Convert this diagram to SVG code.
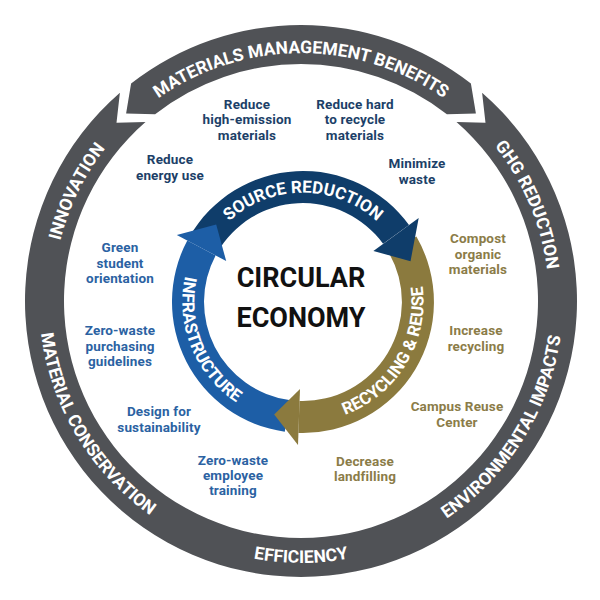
<svg xmlns="http://www.w3.org/2000/svg" width="600" height="600" viewBox="0 0 600 600">
<style>
  .ring{fill:#505256}
  .arc{font-family:"Roboto","Liberation Sans",sans-serif;font-weight:700;fill:#ffffff;text-anchor:middle}
  .outer{font-size:17.5px}
  .inner{font-size:17px}
  .lbl{font-family:"Roboto","Liberation Sans",sans-serif;font-weight:700;font-size:13.5px;letter-spacing:0.15px;text-anchor:middle}
  .nv{fill:#1c3f68}
  .bl{fill:#2b62a2}
  .gd{fill:#8b7c48}
  .center{font-family:"Roboto","Liberation Sans",sans-serif;font-weight:700;font-size:27px;fill:#111111;text-anchor:middle}
</style>
<defs>
  <path id="pTop" d="M56.8,257.9 A248,248 0 0 1 545.2,257.9"/>
  <path id="pGhg" d="M245.2,59.4 A248,248 0 0 1 436.1,509"/>
  <path id="pInn" d="M155.2,501.6 A248,248 0 0 1 369.4,62.6"/>
  <path id="pEff" d="M43,346.5 A262,262 0 0 0 559,346.5"/>
  <path id="pEnv" d="M202.9,543.9 A262,262 0 0 0 476.3,106.3"/>
  <path id="pMat" d="M129.1,103.3 A262,262 0 0 0 394.9,545.6"/>
  <path id="pSrc" d="M195.2,283 A109.5,109.5 0 0 1 410.8,283"/>
  <path id="pRec" d="M259.8,414.5 A120.5,120.5 0 0 0 382.1,211.1"/>
  <path id="pInf" d="M239.1,199.8 A120.5,120.5 0 0 0 328.1,419.9"/>
</defs>
<rect x="0" y="0" width="600" height="600" fill="#ffffff"/>

<g id="benefits-top">
  <path class="ring" d="M131.1,83.5 A276,276 0 0 1 470.9,83.5 L475.9,113.4 L446.9,114.2 A237,237 0 0 0 155.1,114.2 L126.1,113.4 Z"/>
  <text class="arc outer"><textPath href="#pTop" startOffset="50%">MATERIALS MANAGEMENT BENEFITS</textPath></text>
</g>

<g id="benefits-ring">
  <path class="ring" d="M482.1,92.7 A276,276 0 1 1 119.9,92.7 L116.5,122.8 L145.5,122.1 A237,237 0 1 0 456.5,122.1 L485.5,122.8 Z"/>
  <text class="arc outer"><textPath href="#pGhg" startOffset="50%">GHG REDUCTION</textPath></text>
  <text class="arc outer"><textPath href="#pEnv" startOffset="50%">ENVIRONMENTAL IMPACTS</textPath></text>
  <text class="arc outer"><textPath href="#pEff" startOffset="50%">EFFICIENCY</textPath></text>
  <text class="arc outer"><textPath href="#pMat" startOffset="50%">MATERIAL CONSERVATION</textPath></text>
  <text class="arc outer"><textPath href="#pInn" startOffset="50%">INNOVATION</textPath></text>
</g>

<g id="connectors">
  <g id="source-reduction">
    <path fill="#0f3d6a" d="M189.6,236.5 A131,131 0 0 1 409,225 L383.1,243.8 A99,99 0 0 0 217.3,252.5 Z"/>
  </g>
  <g id="recycling-reuse">
    <path fill="#8b7a3e" d="M416.4,236.5 A131,131 0 0 1 298.4,432.9 L299.5,400.9 A99,99 0 0 0 388.7,252.5 Z"/>
  </g>
  <g id="infrastructure">
    <path fill="#1d5ea6" d="M284.8,431.7 A131,131 0 0 1 187.3,240.5 L215.6,255.5 A99,99 0 0 0 289.2,400 Z"/>
  </g>
  <polygon fill="#0f3d6a" points="418.7,217.9 410.5,261.3 373.4,250.9"/>
  <polygon fill="#8b7a3e" points="298,444.9 274.2,414.5 300,388.9"/>
  <polygon fill="#1d5ea6" points="176.8,234.9 216.2,224.5 226.2,261.1"/>
</g>

<g id="stage-labels">
  <text class="arc inner"><textPath href="#pSrc" startOffset="50%">SOURCE REDUCTION</textPath></text>
  <text class="arc inner"><textPath href="#pRec" startOffset="50%">RECYCLING &amp; REUSE</textPath></text>
  <text class="arc inner"><textPath href="#pInf" startOffset="50%">INFRASTRUCTURE</textPath></text>
</g>

<g id="circular-economy">
  <text class="center" x="301" y="287">CIRCULAR</text>
  <text class="center" x="301" y="327">ECONOMY</text>
</g>

<g id="reduce-high-emission">
  <text class="lbl nv" x="247" y="108.5">Reduce<tspan x="247" dy="15.5">high-emission</tspan><tspan x="247" dy="15.5">materials</tspan></text>
</g>
<g id="reduce-hard-to-recycle">
  <text class="lbl nv" x="355" y="108.5">Reduce hard<tspan x="355" dy="15.5">to recycle</tspan><tspan x="355" dy="15.5">materials</tspan></text>
</g>
<g id="reduce-energy">
  <text class="lbl nv" x="170" y="164">Reduce<tspan x="170" dy="15.5">energy use</tspan></text>
</g>
<g id="minimize-waste">
  <text class="lbl nv" x="417" y="168">Minimize<tspan x="417" dy="15.5">waste</tspan></text>
</g>

<g id="green-orientation">
  <text class="lbl bl" x="120" y="252">Green<tspan x="120" dy="15.5">student</tspan><tspan x="120" dy="15.5">orientation</tspan></text>
</g>
<g id="zero-waste-purchasing">
  <text class="lbl bl" x="120" y="335">Zero-waste<tspan x="120" dy="15.5">purchasing</tspan><tspan x="120" dy="15.5">guidelines</tspan></text>
</g>
<g id="design-sustainability">
  <text class="lbl bl" x="159" y="416">Design for<tspan x="159" dy="15.5">sustainability</tspan></text>
</g>
<g id="zero-waste-training">
  <text class="lbl bl" x="233" y="465">Zero-waste<tspan x="233" dy="15">employee</tspan><tspan x="233" dy="15">training</tspan></text>
</g>

<g id="compost">
  <text class="lbl gd" x="478" y="243">Compost<tspan x="478" dy="15.5">organic</tspan><tspan x="478" dy="15.5">materials</tspan></text>
</g>
<g id="increase-recycling">
  <text class="lbl gd" x="476" y="335">Increase<tspan x="476" dy="16">recycling</tspan></text>
</g>
<g id="campus-reuse">
  <text class="lbl gd" x="457" y="411">Campus Reuse<tspan x="457" dy="15.5">Center</tspan></text>
</g>
<g id="decrease-landfilling">
  <text class="lbl gd" x="365" y="466">Decrease<tspan x="365" dy="14.5">landfilling</tspan></text>
</g>
</svg>
